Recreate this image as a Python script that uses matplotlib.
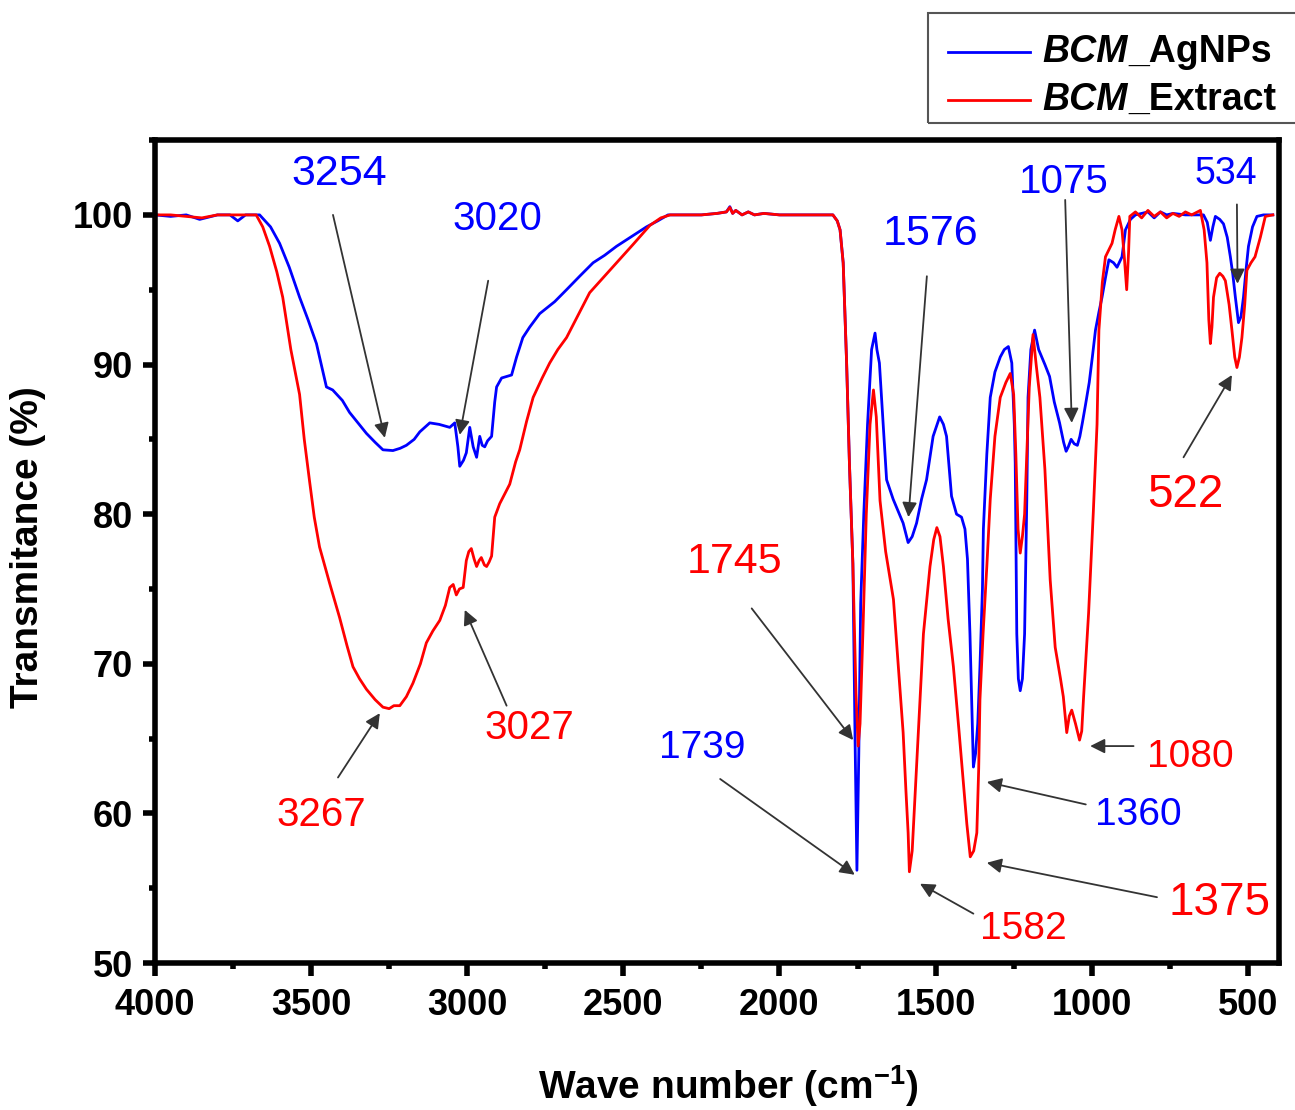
#!/usr/bin/env python3
import matplotlib
matplotlib.use("Agg")
import matplotlib.pyplot as plt
from matplotlib.patches import Rectangle
from matplotlib.lines import Line2D
from matplotlib.ticker import MultipleLocator

plt.rcParams['font.family'] = ['Liberation Sans', 'DejaVu Sans']
plt.rcParams['mathtext.fontset'] = 'custom'
plt.rcParams['mathtext.rm'] = 'Liberation Sans:bold'
plt.rcParams['mathtext.bf'] = 'Liberation Sans:bold'

# BCM_AgNPs spectrum (wavenumber, transmittance %)
agnps_wn = [4000, 3950, 3900, 3857, 3800, 3760, 3735, 3710, 3665, 3630, 3601, 3570,
            3537, 3510, 3483, 3451, 3431, 3400, 3377, 3350, 3323, 3295, 3270, 3238,
            3215, 3195, 3170, 3152, 3120, 3090, 3056, 3040, 3030, 3024, 3012, 3003,
            2992, 2981, 2970, 2960, 2952, 2944, 2935, 2922, 2912, 2906, 2890, 2858,
            2842, 2822, 2800, 2768, 2720, 2682, 2640, 2597, 2560, 2522, 2470, 2426,
            2390, 2357, 2300, 2250, 2200, 2170, 2159, 2150, 2140, 2120, 2100, 2080,
            2050, 2000, 1950, 1900, 1850, 1829, 1815, 1806, 1796, 1785, 1776, 1765,
            1758, 1752, 1746, 1740, 1730, 1718, 1705, 1694, 1688, 1680, 1668, 1657,
            1636, 1604, 1588, 1575, 1561, 1545, 1529, 1508, 1487, 1475, 1465, 1449,
            1433, 1417, 1406, 1398, 1390, 1384, 1379, 1372, 1365, 1358, 1350, 1347,
            1336, 1325, 1310, 1293, 1280, 1267, 1256, 1248, 1245, 1240, 1235, 1229,
            1222, 1215, 1208, 1204, 1195, 1183, 1170, 1150, 1135, 1120, 1103, 1090,
            1082, 1075, 1066, 1056, 1046, 1038, 1030, 1020, 1008, 998, 988, 977,
            967, 956, 945, 930, 919, 910, 903, 892, 876, 860, 820, 800,
            780, 760, 740, 700, 660, 642, 630, 620, 612, 604, 590, 578,
            566, 556, 548, 540, 530, 522, 514, 506, 498, 485, 471, 450,
            428, 420]
agnps_t = [100, 99.9, 100, 99.7, 100, 100, 99.6, 100, 100, 99.2, 98.1, 96.5,
           94.5, 93.0, 91.4, 88.5, 88.3, 87.6, 86.8, 86.1, 85.4, 84.8, 84.3, 84.25,
           84.4, 84.6, 85.0, 85.5, 86.1, 86.0, 85.8, 86.1, 84.5, 83.2, 83.6, 84.1,
           85.8, 84.5, 83.8, 85.2, 84.6, 84.5, 84.9, 85.2, 87.5, 88.5, 89.1, 89.3,
           90.5, 91.8, 92.5, 93.4, 94.2, 95.0, 95.9, 96.8, 97.3, 97.9, 98.6, 99.2,
           99.6, 100, 100, 100, 100.1, 100.2, 100.55, 100.1, 100.3, 100.0, 100.2, 100.0,
           100.1, 100.0, 100.0, 100, 100, 100, 99.6, 99.0, 96.8, 90.1, 83.4, 76.7,
           65, 56.2, 64, 74, 80, 86, 91, 92.1, 91, 90.1, 86, 82.3,
           81.0, 79.4, 78.1, 78.5, 79.4, 81, 82.3, 85.2, 86.5, 86, 85.2, 81.2,
           80.0, 79.8, 79.0, 77, 72, 67, 63.1, 64, 66, 69.8, 75, 79,
           84, 87.8, 89.5, 90.5, 91.0, 91.2, 90.1, 86, 83.4, 72, 69, 68.2,
           69, 72, 80.9, 87.8, 91, 92.3, 91, 90, 89.2, 87.5, 86.1, 84.8,
           84.2, 84.5, 85.0, 84.7, 84.6, 85.2, 86.1, 87.3, 88.8, 90.5, 92.3, 93.5,
           94.5, 95.8, 97, 96.8, 96.5, 96.9, 97.2, 99, 99.7, 100, 100.2, 99.8,
           100.2, 100, 100.1, 100, 100, 100, 99.5, 98.3, 99.2, 99.9, 99.7, 99.4,
           98.5, 97.2, 96, 94.5, 92.8, 93.2, 94.5, 96.3, 97.9, 99.2, 99.9, 100,
           100, 100]

# BCM_Extract spectrum
extract_wn = [4000, 3950, 3900, 3850, 3800, 3750, 3700, 3676, 3655, 3633, 3610, 3591,
              3565, 3537, 3522, 3505, 3490, 3473, 3441, 3409, 3385, 3366, 3345, 3323,
              3295, 3270, 3250, 3235, 3216, 3195, 3174, 3150, 3131, 3110, 3088, 3070,
              3056, 3045, 3035, 3025, 3013, 3003, 2995, 2987, 2978, 2970, 2962, 2955,
              2945, 2938, 2930, 2922, 2912, 2896, 2874, 2864, 2845, 2832, 2810, 2789,
              2760, 2736, 2710, 2682, 2645, 2608, 2565, 2522, 2470, 2415, 2380, 2350,
              2300, 2250, 2200, 2170, 2159, 2150, 2140, 2120, 2100, 2080, 2050, 2000,
              1950, 1900, 1850, 1829, 1815, 1806, 1796, 1785, 1776, 1765, 1755, 1748,
              1742, 1733, 1722, 1710, 1699, 1690, 1678, 1660, 1635, 1620, 1604, 1595,
              1588, 1584, 1575, 1561, 1550, 1539, 1518, 1506, 1496, 1486, 1475, 1460,
              1443, 1425, 1411, 1400, 1389, 1378, 1368, 1362, 1358, 1348, 1336, 1325,
              1310, 1293, 1275, 1261, 1250, 1243, 1236, 1229, 1222, 1215, 1208, 1200,
              1188, 1178, 1166, 1160, 1150, 1133, 1117, 1100, 1091, 1080, 1072, 1064,
              1052, 1039, 1032, 1026, 1010, 995, 983, 977, 966, 956, 935, 925,
              913, 903, 895, 888, 882, 878, 860, 840, 820, 800, 780, 760,
              740, 720, 700, 680, 652, 640, 631, 625, 620, 615, 610, 600,
              590, 580, 572, 560, 551, 542, 535, 527, 519, 510, 503, 490,
              477, 460, 444, 420]
extract_t = [100, 100, 99.9, 99.8, 100, 100, 100, 100, 99.2, 97.9, 96.2, 94.5,
             91.0, 88.0, 85.0, 82.2, 79.8, 77.8, 75.4, 73.1, 71.2, 69.8, 69.0, 68.3,
             67.6, 67.1, 67.0, 67.2, 67.2, 67.8, 68.7, 70.0, 71.4, 72.2, 72.9, 73.9,
             75.1, 75.3, 74.6, 75.0, 75.1, 76.9, 77.5, 77.7, 77.0, 76.5, 76.9, 77.1,
             76.6, 76.5, 76.8, 77.2, 79.8, 80.7, 81.6, 82.0, 83.5, 84.3, 86.2, 87.8,
             89.1, 90.1, 91.0, 91.8, 93.3, 94.8, 95.8, 96.8, 98.0, 99.3, 99.8, 100,
             100, 100, 100.1, 100.2, 100.5, 100.1, 100.3, 100.0, 100.2, 100.0, 100.1, 100.0,
             100.0, 100, 100, 100, 99.6, 99.0, 96.8, 90.1, 83.4, 76.7, 68, 64.5,
             66, 72, 80, 86, 88.3, 86.5, 80.9, 77.5, 74.3, 70, 65.4, 61.5,
             58.7, 56.1, 57.5, 63.1, 67.5, 72.0, 76.5, 78.3, 79.1, 78.5, 76.5, 73,
             69.8, 65.5, 62.0, 59.3, 57.1, 57.5, 58.7, 63, 67.6, 72, 76.5, 81,
             85.2, 87.8, 88.8, 89.4, 88, 84, 79, 77.4, 78.5, 80, 84, 88.5,
             92.0, 90, 87.8, 86, 83, 75.6, 71.1, 69, 67.8, 65.4, 66.5, 66.9,
             66, 64.9, 65.5, 67.8, 73.4, 80.1, 86, 92.3, 95.5, 97.2, 98.1, 99,
             99.9, 99, 97, 95, 97.5, 99.9, 100.2, 99.8, 100.3, 99.9, 100.2, 99.8,
             100.1, 99.9, 100.2, 100, 100.3, 99, 96.8, 93, 91.4, 92.5, 94.5, 95.8,
             96.1, 95.9, 95.6, 94, 92.3, 90.5, 89.8, 90.5, 91.8, 94, 96.3, 96.8,
             97.2, 98.5, 99.9, 100]

# peak labels: (text, colour)
peak_labels = [('3254', 'blue'), ('3020', 'blue'), ('3267', 'red'), ('3027', 'red'),
               ('1576', 'blue'), ('1745', 'red'), ('1739', 'blue'), ('1582', 'red'),
               ('1375', 'red'), ('1360', 'blue'), ('1080', 'red'), ('1075', 'blue'),
               ('534', 'blue'), ('522', 'red')]

# layout of the annotations: text centre, font size, arrow tail, arrow head (data coords)
label_layout = [
    ((3409, 102.7), 31, (3430, 100.0), (3264, 85.1)),
    ((2905, 99.7), 29, (2933, 95.6), (3024, 85.3)),
    ((3466, 59.9), 29, (3414, 62.4), (3280, 66.7)),
    ((2800, 65.7), 29, (2874, 67.2), (3008, 73.6)),
    ((1517, 98.7), 31, (1528, 95.9), (1587, 79.8)),
    ((2143, 76.8), 31, (2089, 73.7), (1764, 64.9)),
    ((2248, 64.4), 28, (2190, 62.3), (1759, 55.9)),
    ((1219, 52.3), 28, (1379, 53.3), (1550, 55.3)),
    ((590, 54.0), 33, (791, 54.4), (1336, 56.7)),
    ((851, 59.9), 28, (1019, 60.6), (1336, 62.1)),
    ((684, 63.8), 28, (866, 64.5), (1005, 64.5)),
    ((1091, 102.2), 29, (1085, 101.0), (1064, 86.1)),
    ((569, 102.7), 27, (535, 100.7), (533, 95.4)),
    ((700, 81.3), 33, (706, 83.8), (551, 89.3)),
]

fig = plt.figure(figsize=(12.95, 11.10), dpi=100)
ax = fig.add_axes([0.1197, 0.1324, 0.8680, 0.7414])

ax.plot(agnps_wn, agnps_t, color='#0000FF', lw=2.0)
ax.plot(extract_wn, extract_t, color='#FF0000', lw=2.0)

for (txt, col), (pos, fs, tail, head) in zip(peak_labels, label_layout):
    ax.text(pos[0], pos[1], txt, color=col, fontsize=fs, ha='center', va='center')
    ax.annotate('', xy=head, xytext=tail,
                arrowprops=dict(arrowstyle='-|>', color='#333333', lw=1.3,
                                mutation_scale=22, shrinkA=0, shrinkB=0))

ax.set_xlim(4000, 400)
ax.set_ylim(50, 105)
ax.xaxis.set_major_locator(MultipleLocator(500))
ax.xaxis.set_minor_locator(MultipleLocator(250))
ax.yaxis.set_major_locator(MultipleLocator(10))
ax.yaxis.set_minor_locator(MultipleLocator(5))

for s in ax.spines.values():
    s.set_linewidth(4.0)
ax.tick_params(which='major', direction='out', length=9, width=4, labelsize=26, pad=7)
ax.tick_params(which='minor', direction='out', length=4.5, width=4)
ax.tick_params(axis='x', which='major', pad=9)
for lab in ax.get_xticklabels() + ax.get_yticklabels():
    lab.set_fontweight('bold')

ax.set_xlabel(r'Wave number (cm$^{\mathbf{-1}}$)', fontsize=28, fontweight='bold')
ax.set_ylabel('Transmitance (%)', fontsize=28, fontweight='bold')
ax.xaxis.set_label_coords(0.51, -0.122)
ax.yaxis.set_label_coords(-0.097, 0.505)

# legend box sitting above the plot, cut by the right edge
fig.patches.append(Rectangle((0.7166, 0.8892), 0.30, 0.0991, transform=fig.transFigure,
                             fill=False, edgecolor='#555555', lw=1.5, clip_on=False))
legend_items = [('_AgNPs', '#0000FF', 0.953), ('_Extract', '#FF0000', 0.910)]
for suffix, col, yy in legend_items:
    fig.lines.append(Line2D([0.732, 0.795], [yy, yy], color=col, lw=2.0,
                            transform=fig.transFigure))
    t1 = fig.text(0.805, yy, 'BCM', fontsize=27, fontweight='bold', fontstyle='italic',
                  va='center', ha='left')
    ax.annotate(suffix, xy=(1, 0.5), xycoords=t1, fontsize=27, fontweight='bold',
                va='center', ha='left', annotation_clip=False)

fig.savefig('out.png', dpi=100)
